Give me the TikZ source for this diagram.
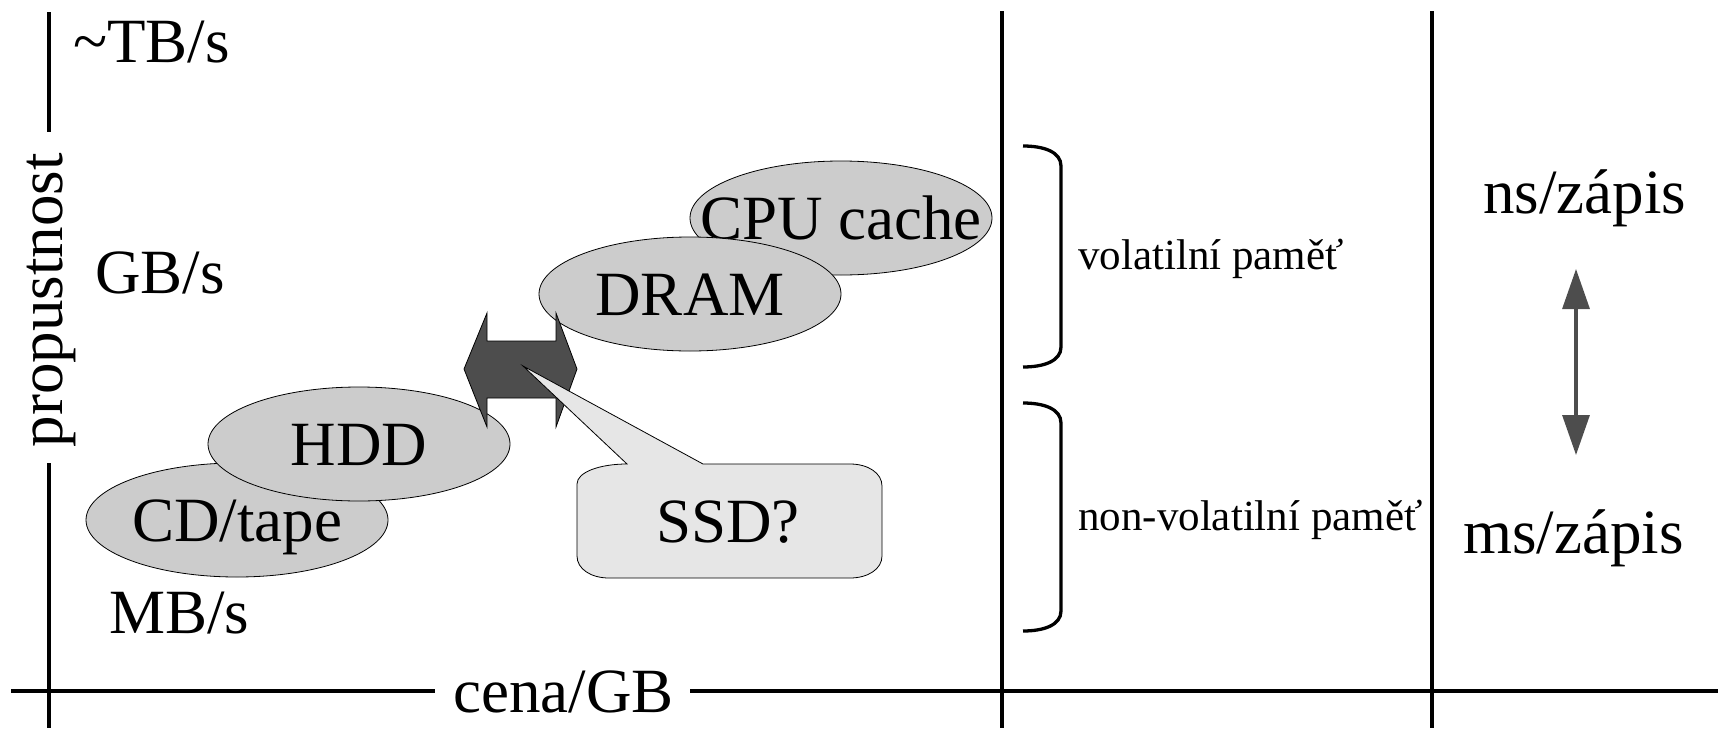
\documentclass[tikz,border=0pt]{standalone}
\usepackage{fontspec}
\setmainfont{Liberation Serif}
\usetikzlibrary{shapes.geometric,arrows.meta}
\definecolor{blobgray}{HTML}{CCCCCC}
\definecolor{callgray}{HTML}{E6E6E6}
\definecolor{arrowgray}{HTML}{4D4D4D}
\begin{document}
\begin{tikzpicture}[x=1pt,y=-1pt,
  axis/.style={line width=3.3pt},
  blob/.style={ellipse, draw, fill=blobgray, line width=0.8pt,
    minimum width=302pt, minimum height=114pt, inner sep=0pt},
  big/.style={font=\fontsize{63}{70}\selectfont, inner sep=0pt},
  small/.style={font=\fontsize{43}{50}\selectfont, inner sep=0pt},
  blobtext/.style={big, text height=42pt, text depth=0pt},
  tag/.style={big, anchor=base west},
  note/.style={small, anchor=base west}]
\useasboundingbox (0,0) rectangle (1718,728);

% axes and column separators
\coordinate (ytop) at (49,12);
\coordinate (ygapA) at (49,132);
\coordinate (ygapB) at (49,463);
\coordinate (ybot) at (49,728);
\coordinate (xl) at (11,691);
\coordinate (xgapA) at (435,691);
\coordinate (xgapB) at (690,691);
\coordinate (xr) at (1718,691);
\coordinate (s1t) at (1002,11);
\coordinate (s1b) at (1002,728);
\coordinate (s2t) at (1432,11);
\coordinate (s2b) at (1432,728);
\draw[axis] (ytop) -- (ygapA);
\draw[axis] (ygapB) -- (ybot);
\draw[axis] (xl) -- (xgapA);
\draw[axis] (xgapB) -- (xr);
\draw[axis] (s1t) -- (s1b);
\draw[axis] (s2t) -- (s2b);

% axis labels
\node[big, rotate=90, anchor=base] (ylab) at (62,300) {propustnost};
\node[big, anchor=base west] (xlab) at (453,712) {cena/GB};
\node[tag] (tbs) at (73,62) {\textasciitilde TB/s};
\node[tag] (gbs) at (95,293) {GB/s};
\node[tag] (mbs) at (109,633) {MB/s};

% memory types
\node[blob] (cpu) at (841,218) {};
\node[blobtext] (cpul) at (cpu.center) {CPU cache};
\node[blob] (dram) at (690,294) {};
\node[blobtext] (draml) at (dram.center) {DRAM};
\node[blob] (cd) at (237,520) {};
\node[blobtext] (cdl) at (cd.center) {CD/tape};
\node[blob] (hdd) at (359,444) {};
\node[blobtext] (hddl) at (hdd.center) {HDD};

% gap between the two groups
\draw[fill=arrowgray, line width=0.8pt]
  (464,369) -- (487,313) -- (487,341) -- (556,341) -- (556,313)
  -- (577,369) -- (556,427) -- (556,398) -- (487,398) -- (487,427) -- cycle;

% callout
\coordinate (ptr) at (523,366);
\draw[fill=callgray, line width=0.8pt]
  (627,464) -- (ptr) -- (703,464) -- (850,464)
  .. controls (868,464) and (882,473) .. (882,486)
  -- (882,556)
  .. controls (882,569) and (868,578) .. (850,578)
  -- (609,578)
  .. controls (591,578) and (577,569) .. (577,556)
  -- (577,484)
  .. controls (577,472) and (600,464) .. (627,464) -- cycle;
\node[big, anchor=base] (ssd) at (728,542) {SSD?};

% brackets
\draw[line width=3.3pt]
  (1023,146) .. controls (1044,146) and (1061,152) .. (1061,166)
  -- (1061,347) .. controls (1061,361) and (1044,367) .. (1023,367);
\draw[line width=3.3pt]
  (1023,403) .. controls (1044,403) and (1061,409) .. (1061,423)
  -- (1061,611) .. controls (1061,625) and (1044,631) .. (1023,631);
\node[note] (vol) at (1078,269) {volatilní paměť};
\node[note] (nvol) at (1078,530) {non-volatilní paměť};

% write latency
\node[tag] (ns) at (1483,213) {ns/zápis};
\node[tag] (ms) at (1463,553) {ms/zápis};
\coordinate (lt) at (1576,269);
\coordinate (lb) at (1576,455);
\draw[arrowgray, line width=3.2pt, {Triangle[length=40pt,width=27pt]}-{Triangle[length=40pt,width=27pt]}] (lt) -- (lb);
\end{tikzpicture}
\end{document}
